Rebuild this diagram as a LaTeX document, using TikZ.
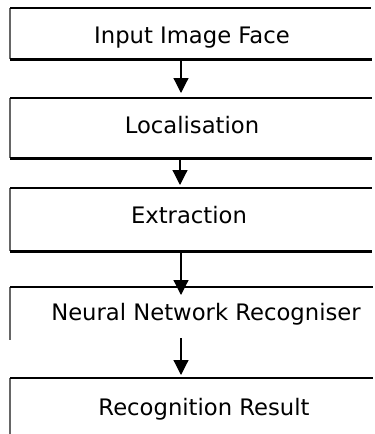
\documentclass[tikz,border=0pt]{standalone}
\usepackage{fontspec}
\setmainfont{DejaVu Sans}
\usetikzlibrary{arrows.meta}
\tikzset{
  topline/.style={line width=1.5pt,black},
  leftline/.style={line width=1.2pt,black!60},
  botline/.style={line width=3pt,black},
  lbl/.style={anchor=base,inner sep=0pt,font=\fontsize{22.7}{27}\selectfont},
  arr/.style={line width=1.2pt,-{Triangle[width=15pt,length=15pt]},shorten >=0pt}
}
\begin{document}
\begin{tikzpicture}[x=1pt,y=-1pt]
\useasboundingbox (0,0) rectangle (375,434);
% box 1
\draw[leftline] (10,8) -- (10,59);
\draw[topline] (10,8) -- (371,8);
\draw[botline] (10,59) -- (372,59);
\node[lbl] (t1) at (192,43) {Input Image Face};
% box 2
\draw[leftline] (10,98) -- (10,158);
\draw[topline] (10,98) -- (372,98);
\draw[botline] (10,158) -- (372,158);
\node[lbl] (t2) at (192,133) {Localisation};
% box 3
\draw[leftline] (10,188) -- (10,251);
\draw[topline] (10,188) -- (372,188);
\draw[botline] (10,251) -- (372,251);
\node[lbl] (t3) at (189,223) {Extraction};
% box 4
\draw[leftline] (10,287) -- (10,340);
\draw[topline] (10,287) -- (373,287);
\node[lbl] (t4) at (206,320) {Neural Network Recogniser};
% box 5
\draw[leftline] (10,378) -- (10,434);
\draw[topline] (10,378) -- (373,378);
\node[lbl] (t5) at (204,415) {Recognition Result};
% arrow coordinates
\coordinate (a1s) at (181,60);
\coordinate (a1e) at (181,93);
\coordinate (a2s) at (180,159);
\coordinate (a2e) at (180,185);
\coordinate (a3s) at (181,252);
\coordinate (a3e) at (181,295);
\coordinate (a4s) at (181,338);
\coordinate (a4e) at (181,375);
\draw[arr] (a1s) -- (a1e);
\draw[arr] (a2s) -- (a2e);
\draw[arr] (a3s) -- (a3e);
\draw[arr] (a4s) -- (a4e);
\end{tikzpicture}
\end{document}
